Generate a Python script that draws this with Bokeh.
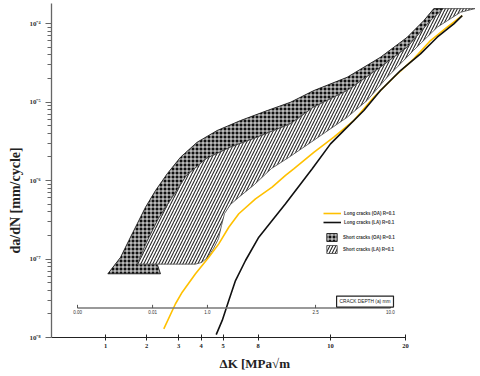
import numpy as np
from bokeh.plotting import figure
from bokeh.models import Range1d, FixedTicker, Legend, LegendItem, Label, Title
from bokeh.core.properties import value
from bokeh.embed import file_html
from bokeh.resources import INLINE

# ---------------- data (ΔK in MPa√m, da/dN in mm/cycle) ----------------
LONG_OA_DK = [2.49, 2.888, 3.146, 3.728, 4.329, 4.79, 5.404, 6.181, 7.735, 8.356, 8.707,
              8.93, 9.499, 10.31, 12.40, 14.92, 17.96, 21.59, 25.20, 29.40, 33.78]
LONG_OA_DADN = [1.29e-8, 2.69e-8, 3.78e-8, 6.48e-8, 1.05e-7, 1.56e-7, 2.54e-7, 3.77e-7, 5.85e-7,
                8.22e-7, 1.16e-6, 1.41e-6, 2.29e-6, 3.56e-6, 5.81e-6, 1.15e-5, 2.07e-5, 3.55e-5,
                6.07e-5, 8.97e-5, 1.26e-4]

LONG_LA_DK = [4.667, 4.961, 5.404, 5.914, 6.764, 8.02, 8.356, 8.707, 9.453, 10.0, 11.67,
              13.61, 15.87, 19.10, 22.97, 26.81, 31.26, 33.78]
LONG_LA_DADN = [1.09e-8, 1.65e-8, 2.96e-8, 5.32e-8, 9.57e-8, 1.90e-7, 3.09e-7, 5.05e-7, 1.41e-6,
                2.93e-6, 4.78e-6, 7.79e-6, 1.40e-5, 2.52e-5, 4.11e-5, 6.69e-5, 9.91e-5, 1.26e-4]

# short cracks (OA): upper / left boundary of the band
SHORT_OA_UPPER_DK = [1.04, 1.289, 1.483, 1.709, 1.966, 2.242, 2.60, 3.077, 3.811, 4.714, 6.324,
                     8.231, 8.842, 9.499, 11.67, 15.87, 20.32, 23.69, 25.98]
SHORT_OA_UPPER_DADN = [6.48e-8, 1.05e-7, 1.72e-7, 2.81e-7, 4.57e-7, 7.46e-7, 1.22e-6, 1.98e-6,
                       3.08e-6, 4.34e-6, 5.81e-6, 7.79e-6, 9.94e-6, 1.40e-5, 2.07e-5, 3.72e-5,
                       6.69e-5, 1.09e-4, 1.55e-4]
# boundary shared by the OA band and the LA band (top -> bottom)
SHORT_SPLIT_DK = [28.41, 25.20, 20.32, 15.87, 11.67, 9.49, 8.842, 7.913, 5.529, 4.229, 3.323,
                  2.746, 2.328, 2.0]
SHORT_SPLIT_DADN = [1.55e-4, 1.09e-4, 4.99e-5, 2.78e-5, 1.40e-5, 8.59e-6, 5.28e-6, 3.56e-6,
                    2.66e-6, 1.91e-6, 1.16e-6, 5.90e-7, 3.28e-7, 1.62e-7]
# lower end of the OA band
SHORT_OA_FOOT_DK = [2.291, 2.388]
SHORT_OA_FOOT_DADN = [8.6e-8, 6.48e-8]
# short cracks (LA): lower / right boundary (bottom-left -> top-right)
SHORT_LA_LOWER_DK = [1.709, 3.728, 4.021, 4.272, 4.541, 4.777, 4.924, 5.103, 5.529, 6.157,
                     7.632, 8.337, 8.789, 9.49, 11.67, 14.04, 16.89, 21.53, 26.81, 33.25, 38.0]
SHORT_LA_LOWER_DADN = [8.6e-8, 8.6e-8, 9.03e-8, 1.04e-7, 1.36e-7, 1.82e-7, 2.67e-7, 3.80e-7,
                       4.95e-7, 6.07e-7, 8.89e-7, 1.42e-6, 1.96e-6, 3.23e-6, 6.40e-6, 1.05e-5,
                       2.07e-5, 4.53e-5, 8.97e-5, 1.39e-4, 1.55e-4]

# crack-depth scale drawn inside the chart
CRACK_DEPTH_LABELS = ["0.00", "0.01", "1.0", "2.5", "10.0"]
CRACK_DEPTH_AT_DK = [0.623, 2.16, 4.27, 9.55, 17.41]
CRACK_SCALE_DADN = 2.37e-8

# axes
DK_TICKS = [1, 2, 3, 4, 5, 8, 10, 20]
DK_TICK_LABELS = ["1", "2", "3", "4", "5", "8", "10", "20"]
Y_TICKS = [1e-8, 1e-7, 1e-6, 1e-5, 1e-4]
Y_TICK_LABELS = ["10⁻⁸", "10⁻⁷", "10⁻⁶", "10⁻⁵", "10⁻⁴"]

# ---------------- non-uniform ΔK axis of the original ----------------
DK_TICK_POS = [54.0, 95.0, 127.0, 149.5, 171.5, 206.5, 279.0, 354.0]
X_END = 429.0


def ax(dk):
    l = np.log10(np.asarray(dk, float))
    lt = np.log10(DK_TICKS)
    pos = np.asarray(DK_TICK_POS)
    u = np.interp(l, lt, pos)
    s_lo = (pos[1] - pos[0]) / (lt[1] - lt[0])
    s_hi = (pos[-1] - pos[-2]) / (lt[-1] - lt[-2])
    u = np.where(l < lt[0], pos[0] + (l - lt[0]) * s_lo, u)
    u = np.where(l > lt[-1], pos[-1] + (l - lt[-1]) * s_hi, u)
    return u


p = figure(width=480, height=376, x_range=Range1d(0, X_END), y_range=Range1d(1e-8, 1.80e-4),
           y_axis_type="log", output_backend="svg", toolbar_location=None, title=None,
           min_border_left=51, min_border_right=0, min_border_top=3, min_border_bottom=39)
p.outline_line_color = None
p.xgrid.grid_line_color = None
p.ygrid.grid_line_color = None
p.background_fill_color = "white"
p.border_fill_color = "white"

# x axis
xa = p.xaxis[0]
xa.ticker = FixedTicker(ticks=DK_TICK_POS)
xa.major_label_overrides = {float(k): v for k, v in zip(DK_TICK_POS, DK_TICK_LABELS)}
xa.bounds = (0, DK_TICK_POS[-1])
xa.axis_line_color = "#222222"
xa.major_tick_line_color = "#222222"
xa.major_tick_in = 3
xa.major_tick_out = 3
xa.minor_tick_line_color = None
xa.major_label_standoff = 3
xa.major_label_text_font = "Liberation Serif"
xa.major_label_text_font_style = "bold"
xa.major_label_text_font_size = "6.5px"
xa.major_label_text_color = "#222222"

# y axis
ya = p.yaxis[0]
minors = [k * 10.0 ** e for e in range(-8, -3) for k in range(2, 10)]
ya.ticker = FixedTicker(ticks=Y_TICKS, minor_ticks=minors)
ya.major_label_overrides = {float(k): v for k, v in zip(Y_TICKS, Y_TICK_LABELS)}
ya.axis_line_color = "#666666"
ya.axis_line_width = 1.3
ya.major_tick_line_color = "#666666"
ya.minor_tick_line_color = "#666666"
ya.major_tick_in = 0
ya.major_tick_out = 6
ya.minor_tick_in = 0
ya.minor_tick_out = 4
ya.major_label_standoff = 5
ya.major_label_text_font = "Liberation Serif"
ya.major_label_text_font_style = "bold"
ya.major_label_text_font_size = "7px"
ya.major_label_text_color = "#333333"

# short-crack bands
oa_x = ax(SHORT_OA_UPPER_DK + SHORT_SPLIT_DK + SHORT_OA_FOOT_DK)
oa_y = SHORT_OA_UPPER_DADN + SHORT_SPLIT_DADN + SHORT_OA_FOOT_DADN
r_oa = p.patch(oa_x, oa_y, fill_color="#111111", hatch_pattern="+", hatch_color="white",
               hatch_scale=4, hatch_weight=0.9, line_color="#111111", line_width=0.8)

la_x = ax(SHORT_SPLIT_DK + SHORT_LA_LOWER_DK)
la_y = SHORT_SPLIT_DADN + SHORT_LA_LOWER_DADN
r_la = p.patch(la_x, la_y, fill_color="white", hatch_pattern="/", hatch_color="#2a2a2a",
               hatch_scale=6, hatch_weight=1.1, line_color="#444444", line_width=0.8)

# long cracks
r_lo = p.line(ax(LONG_OA_DK), LONG_OA_DADN, line_color="#FFC000", line_width=1.6)
r_ll = p.line(ax(LONG_LA_DK), LONG_LA_DADN, line_color="#111111", line_width=1.6)

# crack depth scale
cx = ax(CRACK_DEPTH_AT_DK)
p.segment(x0=[cx[0]], y0=[CRACK_SCALE_DADN], x1=[cx[-1]], y1=[CRACK_SCALE_DADN],
          line_color="#777777", line_width=1.5)
p.segment(x0=cx, y0=[CRACK_SCALE_DADN] * len(cx), x1=cx, y1=[CRACK_SCALE_DADN * 1.1] * len(cx),
          line_color="#555555", line_width=1)
p.text(x=cx, y=[CRACK_SCALE_DADN] * len(cx), text=CRACK_DEPTH_LABELS, text_align="center",
       text_baseline="top", y_offset=2, text_font_size="4.5px", text_color="#333333",
       text_font=value("Liberation Sans"))
p.add_layout(Label(x=float(cx[-1]), y=CRACK_SCALE_DADN, text="CRACK DEPTH (a) mm",
                   text_align="right", text_baseline="bottom", x_offset=3, y_offset=1,
                   text_font_size="4.8px", text_color="#222222", text_font="Liberation Sans",
                   border_line_color="#222222", border_line_width=1.2,
                   background_fill_color="white", padding=3))

# legends
leg1 = Legend(items=[LegendItem(label="Long cracks (OA) R=0.1", renderers=[r_lo]),
                     LegendItem(label="Long cracks (LA) R=0.1", renderers=[r_ll])],
              location=(272, 112), glyph_width=18, glyph_height=6, label_height=6,
              spacing=3, padding=0, margin=0, label_standoff=3,
              border_line_color=None, background_fill_alpha=0,
              label_text_font_size="4.5px", label_text_font_style="bold",
              label_text_color="#333333")
leg2 = Legend(items=[LegendItem(label="Short cracks (OA) R=0.1", renderers=[r_oa]),
                     LegendItem(label="Short cracks (LA) R=0.1", renderers=[r_la])],
              location=(274, 83), glyph_width=13, glyph_height=10, label_height=10,
              spacing=2, padding=0, margin=0, label_standoff=5,
              border_line_color=None, background_fill_alpha=0,
              label_text_font_size="4.5px", label_text_font_style="bold",
              label_text_color="#333333")
p.add_layout(leg1)
p.add_layout(leg2)

# axis titles
p.add_layout(Title(text="da/dN [mm/cycle]", align="left", offset=84, standoff=8,
                   text_font="Liberation Serif", text_font_style="bold",
                   text_font_size="14px", text_color="#222222"), "left")
p.add_layout(Title(text="ΔK [MPa√m", align="left", offset=168, standoff=6,
                   text_font="Liberation Serif", text_font_style="bold",
                   text_font_size="13px", text_color="#222222"), "below")

open("out.html", "w").write(file_html(p, INLINE))
